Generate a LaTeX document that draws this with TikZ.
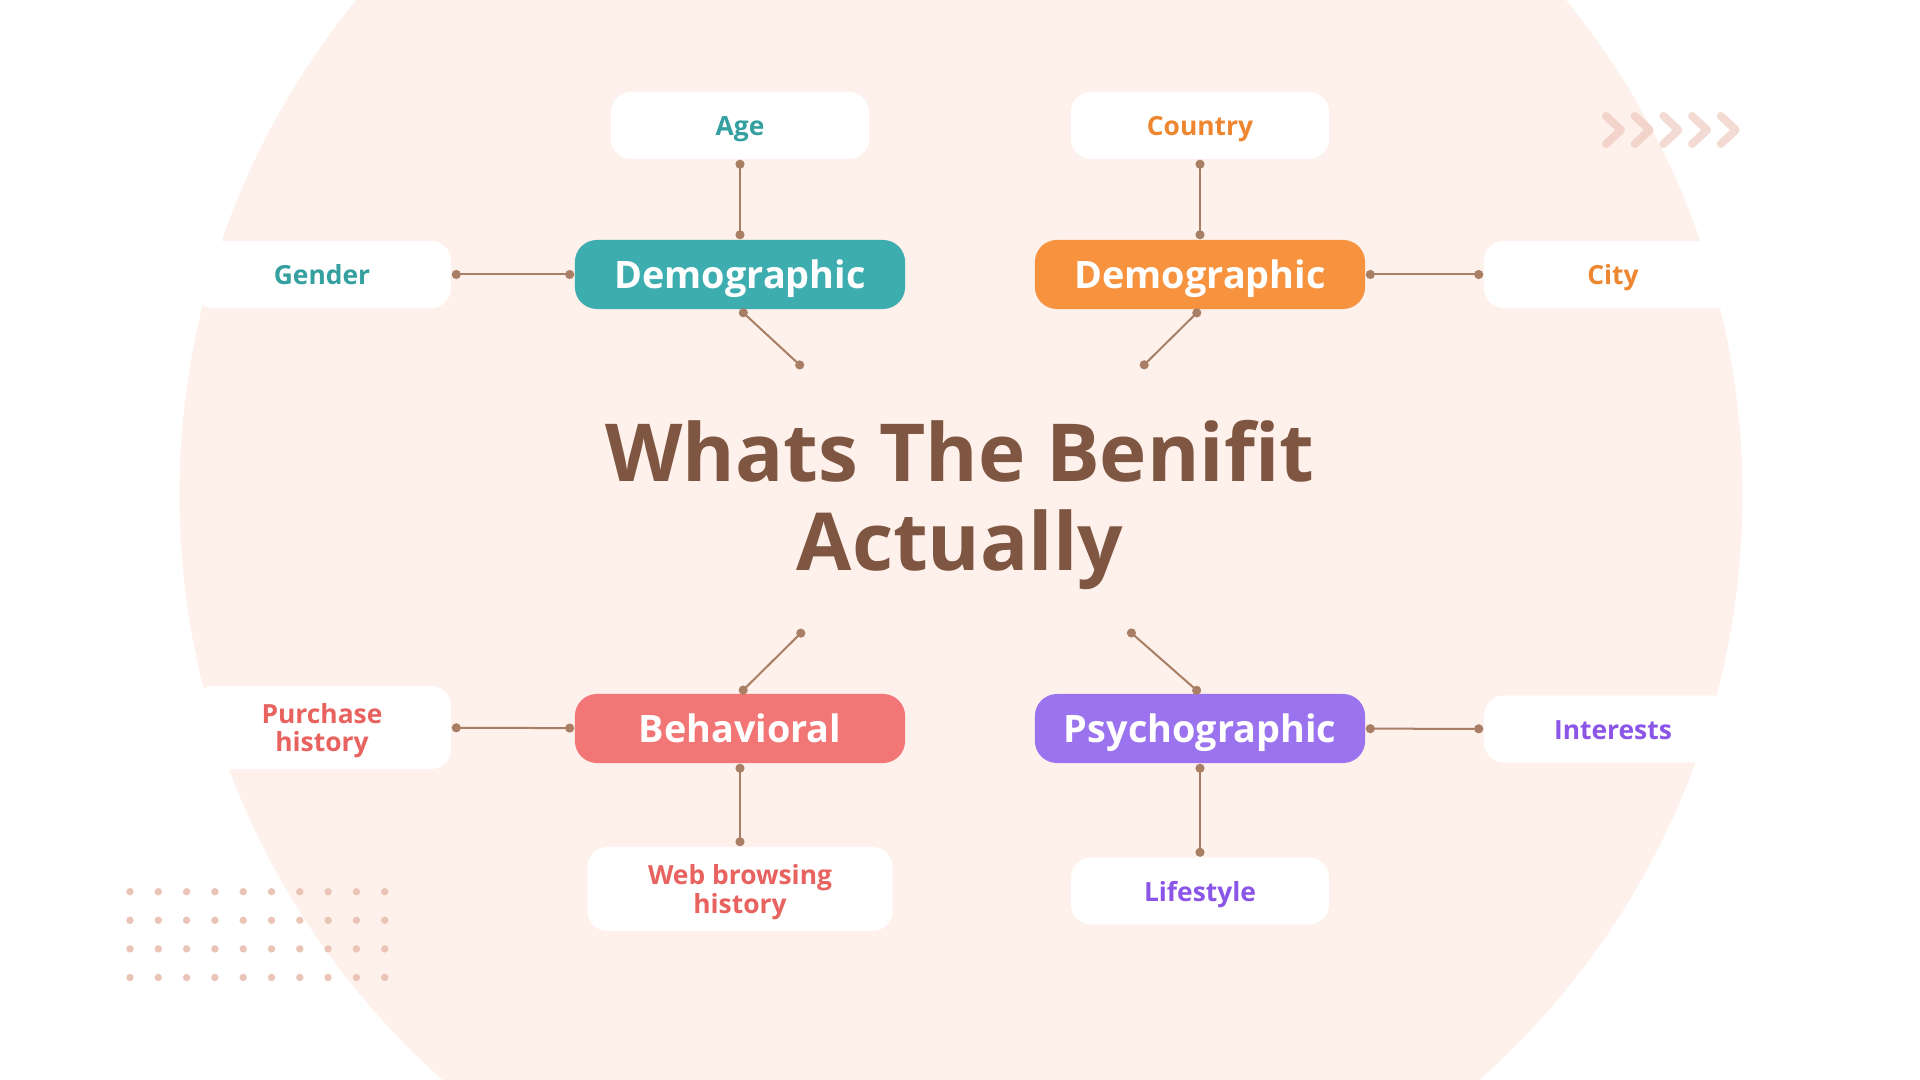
\documentclass[tikz,border=0pt]{standalone}
\usepackage{fontspec}
\setmainfont{Open Sans}
\usetikzlibrary{arrows.meta}
\definecolor{bgpink}{HTML}{FEF0EB}
\definecolor{dotc}{HTML}{EBC4B8}
\definecolor{chevc}{HTML}{E9B9AB}
\definecolor{connc}{HTML}{A87F65}
\definecolor{titlec}{HTML}{7E5641}
\definecolor{tealbox}{HTML}{3EADAF}
\definecolor{tealtxt}{HTML}{35A0A0}
\definecolor{orangebox}{HTML}{F7923F}
\definecolor{orangetxt}{HTML}{EE8630}
\definecolor{coralbox}{HTML}{F17675}
\definecolor{coraltxt}{HTML}{E8625F}
\definecolor{purplebox}{HTML}{9C73EF}
\definecolor{purpletxt}{HTML}{8B55E8}
\tikzset{
  mainbox/.style={rectangle, rounded corners=0.22cm, minimum width=3.30cm, minimum height=0.69cm,
    inner sep=0pt, text depth=0pt, text height=8.2pt, text=white, font=\fontsize{10.75pt}{12pt}\selectfont\bfseries},
  satbox/.style={rectangle, rounded corners=0.2cm, fill=white, minimum width=2.58cm, minimum height=0.67cm,
    inner sep=0pt, text depth=0pt, align=center, font=\fontsize{7.5pt}{8.1pt}\selectfont\bfseries},
  oneline/.style={text height=5.7pt},
  conn/.style={draw=connc, line width=0.02cm, {Circle[length=0.09cm,width=0.09cm]}-{Circle[length=0.09cm,width=0.09cm]}},
  titlestyle/.style={inner sep=0pt, align=center, text=titlec, font=\fontsize{22.76pt}{25.04pt}\selectfont\bfseries},
  chev/.style={draw=chevc, opacity=0.5, line width=0.08cm, line cap=round, line join=round}
}
\begin{document}
\begin{tikzpicture}[x=0.01cm,y=-0.01cm]
\useasboundingbox (0,0) rectangle (1920,1080);
\fill[white] (0,0) rectangle (1920,1080);
\begin{scope}
  \clip (0,0) rectangle (1920,1080);
  \fill[bgpink] (961,495) circle[radius=7.81cm];
\end{scope}
% dot grid
\foreach \i in {0,...,9}{
  \foreach \j in {0,...,3}{
    \fill[dotc] (130+28.3*\i, 891.7+28.6*\j) circle[radius=0.037cm];
  }
}
% chevrons
\foreach \i in {0,...,4}{
  \draw[chev] (1606+28.7*\i,116) -- (1621+28.7*\i,130) -- (1606+28.7*\i,144);
}
% title
\node[titlestyle] (title) at (960,505) {Whats The Benifit\\Actually};
% main boxes
\node[mainbox, fill=tealbox] (demo1) at (740,274.5) {Demographic};
\node[mainbox, fill=orangebox] (demo2) at (1200,274.5) {Demographic};
\node[mainbox, fill=coralbox] (beh) at (740,728.5) {Behavioral};
\node[mainbox, fill=purplebox] (psy) at (1200,728.5) {Psychographic};
% satellite boxes
\node[satbox, oneline, text=tealtxt] (age) at (740,125.5) {Age};
\node[satbox, oneline, text=tealtxt] (gender) at (322,274.5) {Gender};
\node[satbox, oneline, text=orangetxt] (country) at (1200,125.5) {Country};
\node[satbox, oneline, text=orangetxt] (city) at (1613,274.5) {City};
\node[satbox, text=coraltxt, minimum height=0.83cm] (purchase) at (322,727.5) {Purchase\\history};
\node[satbox, text=coraltxt, minimum width=3.05cm, minimum height=0.84cm] (web) at (740,889) {Web browsing\\history};
\node[satbox, oneline, text=purpletxt] (interests) at (1613,729) {Interests};
\node[satbox, oneline, text=purpletxt] (life) at (1200,891) {Lifestyle};
% free ends toward the title
\coordinate (c1) at (803,368);
\coordinate (c2) at (1141,368);
\coordinate (c3) at (804,630);
\coordinate (c4) at (1128,630);
% connectors
\draw[conn] (age) -- (demo1);
\draw[conn] (gender) -- (demo1);
\draw[conn] (demo1.south) -- (c1);
\draw[conn] (country) -- (demo2);
\draw[conn] (demo2) -- (city);
\draw[conn] (demo2.south) -- (c2);
\draw[conn] (purchase) -- (beh);
\draw[conn] (beh) -- (web);
\draw[conn] (beh.north) -- (c3);
\draw[conn] (psy) -- (interests);
\draw[conn] (psy) -- (life);
\draw[conn] (psy.north) -- (c4);
\end{tikzpicture}
\end{document}
